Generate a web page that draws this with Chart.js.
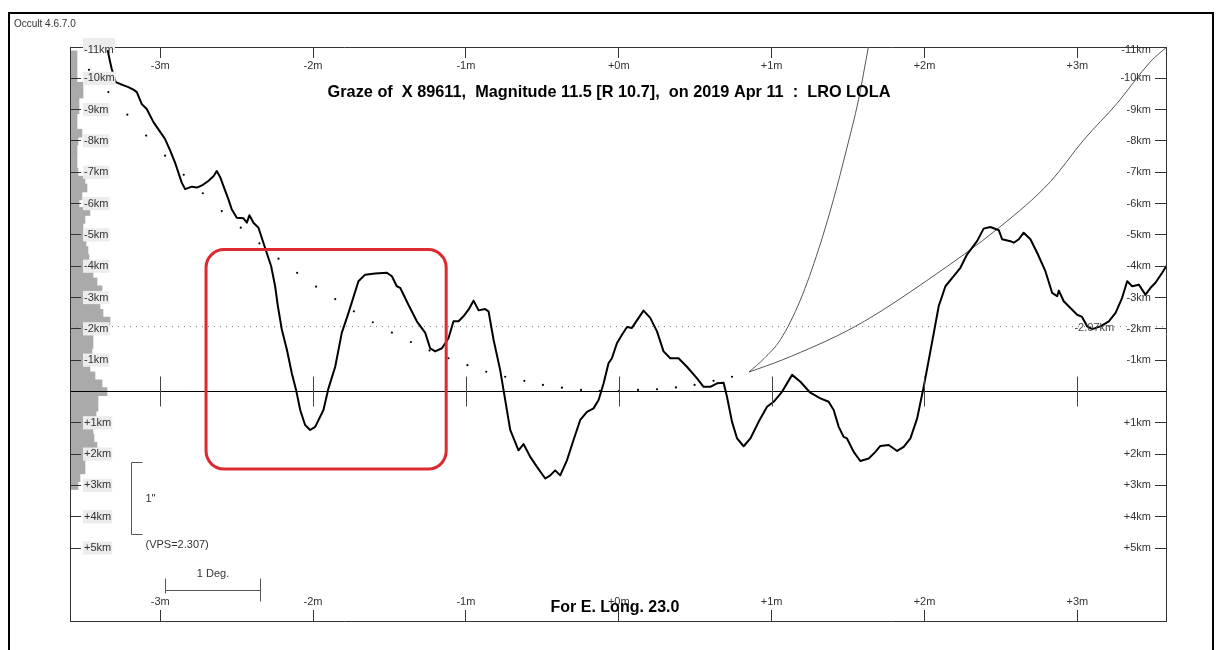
<!DOCTYPE html>
<html>
<head>
<meta charset="utf-8">
<title>Graze profile</title>
<script src="https://cdn.jsdelivr.net/npm/chart.js@4.4.1/dist/chart.umd.min.js"></script>
<style>
	html, body { margin: 0; padding: 0; background: #fff; }
	#wrapper-graze { position: relative; width: 1217px; height: 650px; overflow: hidden; }
	#frame { position: absolute; left: 8px; top: 12px; width: 1206px; height: 660px; border: 2px solid #000; box-sizing: border-box; }
	#graze-profile { position: absolute; left: 0; top: 0; }
</style>
</head>
<body>
<div id="wrapper-graze">
	<div id="frame"></div>
	<canvas id="graze-profile" width="1217" height="650"></canvas>
</div>
<script>
// axis ranges (minutes from central time, km from predicted limit)
const xRange = [-3.59, 3.58];
const yRange = [-11, 7.33];
const minuteTicks = [-3, -2, -1, 0, 1, 2, 3];
const kmTicks = [-11, -10, -9, -8, -7, -6, -5, -4, -3, -2, -1, 1, 2, 3, 4, 5];

// LRO LOLA limb profile
const profileMin = [-3.350, -3.331, -3.317, -3.291, -3.262, -3.230, -3.208, -3.175, -3.153, -3.121,
	-3.088, -3.044, -2.990, -2.968, -2.935, -2.903, -2.859, -2.837, -2.815, -2.793,
	-2.760, -2.720, -2.685, -2.650, -2.630, -2.608, -2.586, -2.554, -2.532, -2.499,
	-2.455, -2.433, -2.416, -2.390, -2.357, -2.325, -2.274, -2.248, -2.230, -2.204,
	-2.171, -2.139, -2.111, -2.084, -2.052, -2.019, -1.986, -1.932, -1.899, -1.855,
	-1.812, -1.768, -1.703, -1.659, -1.594, -1.517, -1.484, -1.452, -1.430, -1.376,
	-1.321, -1.266, -1.234, -1.201, -1.157, -1.114, -1.081, -1.048, -1.016, -0.983,
	-0.950, -0.917, -0.874, -0.852, -0.819, -0.776, -0.743, -0.710, -0.656, -0.623,
	-0.579, -0.535, -0.481, -0.448, -0.416, -0.383, -0.339, -0.296, -0.252, -0.208,
	-0.165, -0.132, -0.099, -0.067, -0.045, -0.012, 0.021, 0.054, 0.086, 0.108,
	0.162, 0.206, 0.250, 0.293, 0.337, 0.391, 0.446, 0.512, 0.555, 0.599,
	0.643, 0.686, 0.708, 0.741, 0.774, 0.817, 0.861, 0.915, 0.970, 1.013,
	1.068, 1.134, 1.188, 1.253, 1.319, 1.373, 1.406, 1.439, 1.471, 1.493,
	1.537, 1.580, 1.635, 1.679, 1.711, 1.766, 1.821, 1.864, 1.908, 1.952,
	1.995, 2.028, 2.061, 2.093, 2.137, 2.191, 2.235, 2.279, 2.344, 2.387,
	2.431, 2.486, 2.508, 2.562, 2.584, 2.617, 2.649, 2.693, 2.737, 2.791,
	2.835, 2.868, 2.879, 2.911, 2.966, 2.999, 3.031, 3.064, 3.097, 3.151,
	3.206, 3.250, 3.293, 3.326, 3.359, 3.402, 3.446, 3.479, 3.511, 3.555,
	3.588];
const profileKm = [-11.05, -10.60, -10.30, -9.88, -9.82, -9.76, -9.72, -9.64, -9.56, -9.18,
	-9.02, -8.60, -8.22, -8.06, -7.70, -7.31, -6.67, -6.46, -6.50, -6.54,
	-6.51, -6.60, -6.72, -6.88, -7.04, -6.85, -6.56, -6.14, -5.82, -5.55,
	-5.53, -5.39, -5.63, -5.39, -5.23, -4.75, -4.00, -3.36, -2.72, -1.97,
	-1.33, -0.58, -0.05, 0.59, 1.07, 1.23, 1.13, 0.59, -0.10, -0.79,
	-1.87, -2.51, -3.52, -3.73, -3.77, -3.79, -3.68, -3.36, -3.31, -2.77,
	-2.24, -1.87, -1.38, -1.28, -1.38, -1.70, -2.24, -2.24, -2.40, -2.61,
	-2.90, -2.59, -2.63, -2.56, -1.65, -0.69, 0.27, 1.23, 1.88, 1.68,
	2.09, 2.41, 2.78, 2.68, 2.52, 2.68, 2.20, 1.55, 0.91, 0.65,
	0.54, 0.27, -0.26, -0.90, -1.06, -1.54, -1.81, -2.06, -2.03, -2.19,
	-2.58, -2.35, -1.92, -1.28, -1.06, -1.06, -0.79, -0.42, -0.15, -0.15,
	-0.26, -0.28, 0.17, 0.97, 1.50, 1.75, 1.50, 0.97, 0.49, 0.33,
	0.01, -0.53, -0.31, 0.04, 0.22, 0.33, 0.59, 1.13, 1.45, 1.50,
	1.93, 2.22, 2.14, 1.93, 1.74, 1.71, 1.90, 1.77, 1.50, 0.86,
	-0.15, -1.01, -1.87, -2.72, -3.36, -3.68, -3.95, -4.38, -4.80, -5.20,
	-5.25, -5.15, -4.86, -4.80, -4.75, -4.86, -5.07, -4.86, -4.43, -3.84,
	-3.15, -3.04, -3.22, -2.88, -2.61, -2.45, -2.38, -2.08, -1.99, -2.08,
	-2.24, -2.51, -2.99, -3.52, -3.36, -3.41, -3.09, -3.31, -3.47, -3.79,
	-4.05];

// dotted reference curve
const predMin = [-3.466, -3.339, -3.215, -3.092, -2.968, -2.846, -2.721, -2.597, -2.473, -2.351,
	-2.226, -2.104, -1.980, -1.855, -1.733, -1.609, -1.484, -1.360, -1.238, -1.114,
	-0.990, -0.867, -0.743, -0.618, -0.496, -0.372, -0.247, -0.124, 0.000, 0.126,
	0.250, 0.374, 0.496, 0.620, 0.741];
const predKm = [-10.27, -9.56, -8.84, -8.17, -7.53, -6.92, -6.33, -5.76, -5.23, -4.73,
	-4.24, -3.79, -3.35, -2.95, -2.56, -2.21, -1.88, -1.58, -1.31, -1.06,
	-0.84, -0.63, -0.47, -0.34, -0.21, -0.12, -0.05, -0.02, -0.01, -0.05,
	-0.07, -0.13, -0.21, -0.34, -0.47];

// the two thin limit curves
const limitAMin = [0.852, 0.950, 1.057, 1.188, 1.306, 1.404, 1.489, 1.568, 1.633];
const limitAKm = [-0.62, -1.05, -1.65, -2.92, -4.52, -6.12, -7.71, -9.31, -11.0];
const limitBMin = [0.852, 1.071, 1.548, 2.024, 2.500, 2.824, 3.041, 3.260, 3.478, 3.580];
const limitBKm = [-0.62, -1.01, -2.08, -3.57, -5.28, -6.70, -8.03, -9.20, -10.53, -10.98];

// limb point histogram down the left edge
const histKm = [-10.875, -10.625, -10.375, -10.125, -9.875, -9.625, -9.375, -9.125, -8.875, -8.625,
	-8.375, -8.125, -7.875, -7.625, -7.375, -7.125, -6.875, -6.625, -6.375, -6.125,
	-5.875, -5.625, -5.375, -5.125, -4.875, -4.625, -4.375, -4.125, -3.875, -3.625,
	-3.375, -3.125, -2.875, -2.625, -2.375, -2.125, -1.875, -1.625, -1.375, -1.125,
	-0.875, -0.625, -0.375, -0.125, 0.125, 0.375, 0.625, 0.875, 1.125, 1.375,
	1.625, 1.875, 2.125, 2.375, 2.625, 2.875];
const histCount = [7, 7, 7, 7, 13, 13, 9, 9, 7, 7,
	12, 8, 7, 7, 7, 8, 15, 17, 12, 9,
	20, 15, 13, 13, 16, 18, 19, 20, 23, 27,
	32, 28, 30, 33, 40, 22, 23, 23, 22, 20,
	20, 25, 32, 37, 28, 28, 26, 23, 23, 24,
	27, 22, 15, 15, 10, 8];

const limitLineKm = -2.07;
const limitLabel = "-2.07km";
const limitLabelMin = 3.111;

// annotations in data units: [minFrom, minTo, kmFrom, kmTo]
const highlightBox = [-2.700, -1.129, -4.53, 2.48];
const degBar = [-2.967, -2.350, 6.33];
const arcsecBar = [-3.190, 2.24, 4.55];

const titleText = "Graze of  X 89611,  Magnitude 11.5 [R 10.7],  on 2019 Apr 11  :  LRO LOLA";
const footText = "For E. Long. 23.0";
const versionText = "Occult 4.6.7.0";

const fontFamily = '"Liberation Sans", Arial, sans-serif';
const tickFont = { family: fontFamily, size: 11 };
const frameColor = "#333";

const toPoints = (xs, ys) => xs.map((v, i) => ({ x: v, y: ys[i] }));
const minLabel = (v) => (v >= 0 ? "+" : "") + v + "m";
// top label sits a little below the frame line, as in Occult
const kmLabel = (v) => {
	let text = (v > 0 ? "+" : "") + v + "km";
	return v === yRange[0] ? ["", text] : text;
};
const kmFont = (c) => (c.tick && c.tick.value === yRange[0] ? { ...tickFont, lineHeight: 0.55 } : tickFont);

function roundedRect(ctx, x, y, w, h, r) {
	ctx.beginPath();
	ctx.moveTo(x + r, y);
	ctx.arcTo(x + w, y, x + w, y + h, r);
	ctx.arcTo(x + w, y + h, x, y + h, r);
	ctx.arcTo(x, y + h, x, y, r);
	ctx.arcTo(x, y, x + w, y, r);
	ctx.closePath();
}

const overlayPlugin = {
	id: "overlay",
	afterDatasetsDraw(chart) {
		let { ctx, chartArea, scales } = chart;
		let y0 = Math.round(scales.y.getPixelForValue(0)) + 0.5;
		ctx.save();
		ctx.lineWidth = 1;
		ctx.strokeStyle = "#000";
		ctx.beginPath();
		ctx.moveTo(chartArea.left, y0);
		ctx.lineTo(chartArea.right, y0);
		ctx.stroke();
		ctx.strokeStyle = "#444";
		ctx.beginPath();
		for (let m of minuteTicks) {
			let px = Math.round(scales.x.getPixelForValue(m)) + 0.5;
			ctx.moveTo(px, y0 - 15);
			ctx.lineTo(px, y0 + 15);
		}
		ctx.stroke();
		ctx.restore();
	},
	afterDraw(chart) {
		let { ctx, scales } = chart;
		let x = scales.x, y = scales.y;
		ctx.save();

		// red highlight
		let left = x.getPixelForValue(highlightBox[0]);
		let right = x.getPixelForValue(highlightBox[1]);
		let top = y.getPixelForValue(highlightBox[2]);
		let bottom = y.getPixelForValue(highlightBox[3]);
		ctx.strokeStyle = "#dc2a30";
		ctx.lineWidth = 3;
		roundedRect(ctx, left, top, right - left, bottom - top, 18);
		ctx.stroke();

		// 1 degree scale bar
		let d0 = Math.round(x.getPixelForValue(degBar[0])) + 0.5;
		let d1 = Math.round(x.getPixelForValue(degBar[1])) + 0.5;
		let dy = Math.round(y.getPixelForValue(degBar[2])) + 0.5;
		ctx.strokeStyle = "#555";
		ctx.lineWidth = 1;
		ctx.beginPath();
		ctx.moveTo(d0, dy); ctx.lineTo(d1, dy);
		ctx.moveTo(d0, dy - 12); ctx.lineTo(d0, dy + 3);
		ctx.moveTo(d1, dy - 12); ctx.lineTo(d1, dy + 11);
		ctx.stroke();

		// 1 arcsec bracket
		let ax = Math.round(x.getPixelForValue(arcsecBar[0])) + 0.5;
		let a0 = Math.round(y.getPixelForValue(arcsecBar[1])) + 0.5;
		let a1 = Math.round(y.getPixelForValue(arcsecBar[2])) + 0.5;
		ctx.beginPath();
		ctx.moveTo(ax + 11, a0); ctx.lineTo(ax, a0); ctx.lineTo(ax, a1); ctx.lineTo(ax + 11, a1);
		ctx.stroke();

		ctx.fillStyle = "#333";
		ctx.font = "11px " + fontFamily;
		ctx.textBaseline = "middle";
		ctx.textAlign = "center";
		ctx.fillText("1 Deg.", (d0 + d1) / 2, dy - 17);
		ctx.textAlign = "left";
		ctx.fillText("1\"", ax + 14, (a0 + a1) / 2);
		ctx.fillText("(VPS=2.307)", ax + 14, a1 + 10);

		ctx.textAlign = "center";
		ctx.fillStyle = "#444";
		ctx.fillText(limitLabel, x.getPixelForValue(limitLabelMin), y.getPixelForValue(limitLineKm) + 1);

		ctx.fillStyle = "#333";
		ctx.font = "10px " + fontFamily;
		ctx.textAlign = "left";
		ctx.fillText(versionText, 14, 24);

		ctx.fillStyle = "#000";
		ctx.font = "bold 16.3px " + fontFamily;
		ctx.textAlign = "center";
		ctx.fillText(titleText, 609, 93);
		ctx.font = "bold 16px " + fontFamily;
		ctx.fillText(footText, 615, 608);
		ctx.restore();
	},
};

function xAxis(position) {
	return {
		type: "linear",
		position: position,
		min: xRange[0],
		max: xRange[1],
		offset: false,
		afterBuildTicks: (s) => { s.ticks = minuteTicks.map((v) => ({ value: v })); },
		afterFit: (s) => { s.height = 0; },
		grid: { drawOnChartArea: false, offset: false, tickLength: -11, color: frameColor },
		border: { display: true, color: frameColor, width: 1 },
		ticks: {
			autoSkip: false,
			maxRotation: 0,
			minRotation: 0,
			mirror: true,
			padding: 12.4,
			font: tickFont,
			color: "#333",
			callback: minLabel,
		},
	};
}

function yAxis(position) {
	let left = position === "left";
	return {
		type: "linear",
		position: position,
		reverse: true,
		min: yRange[0],
		max: yRange[1],
		offset: false,
		afterBuildTicks: (s) => { s.ticks = kmTicks.map((v) => ({ value: v })); },
		afterFit: (s) => { s.width = 0; },
		// ticks and labels go over the histogram bars
		grid: { drawOnChartArea: false, offset: false, tickLength: -11, color: frameColor, z: 1 },
		border: { display: true, color: frameColor, width: 1, z: 1 },
		ticks: {
			autoSkip: false,
			mirror: true,
			padding: left ? 14 : -15,
			z: 1,
			font: kmFont,
			color: "#333",
			showLabelBackdrop: left,
			backdropColor: "#ececec",
			backdropPadding: { top: 0, bottom: 0, left: 1, right: 1 },
			callback: kmLabel,
		},
	};
}

let ctx = document.getElementById("graze-profile").getContext("2d");

let grazeChart = new Chart(ctx, {
	type: "line",
	data: {
		datasets: [
			{
				label: "Profile",
				data: toPoints(profileMin, profileKm),
				borderColor: "#000",
				borderWidth: 2,
				pointRadius: 0,
				tension: 0,
				borderJoinStyle: "round",
				clip: 0,
			},
			{
				label: "Mean limb",
				data: toPoints(predMin, predKm),
				showLine: false,
				pointRadius: 1.1,
				pointBorderWidth: 0,
				pointBackgroundColor: "#000",
				clip: 0,
			},
			{
				label: "Limit A",
				data: toPoints(limitAMin, limitAKm),
				borderColor: "#555",
				borderWidth: 1,
				pointRadius: 0,
				cubicInterpolationMode: "monotone",
				clip: 0,
			},
			{
				label: "Limit B",
				data: toPoints(limitBMin, limitBKm),
				borderColor: "#555",
				borderWidth: 1,
				pointRadius: 0,
				cubicInterpolationMode: "monotone",
				clip: 0,
			},
			{
				label: "Limit line",
				data: [{ x: xRange[0], y: limitLineKm }, { x: xRange[1], y: limitLineKm }],
				borderColor: "#777",
				borderWidth: 1,
				borderDash: [1, 5],
				pointRadius: 0,
			},
			{
				type: "bar",
				label: "Limb points",
				indexAxis: "y",
				xAxisID: "xh",
				yAxisID: "y",
				data: histKm.map((k, i) => ({ y: k, x: histCount[i] })),
				backgroundColor: "#aaaaaa",
				borderWidth: 0,
				barThickness: 8,
				barPercentage: 1,
				categoryPercentage: 1,
			},
		],
	},
	options: {
		responsive: false,
		animation: false,
		events: [],
		layout: { padding: { left: 70, top: 47, right: 51, bottom: 29 } },
		scales: {
			x: xAxis("top"),
			x2: xAxis("bottom"),
			xh: { type: "linear", axis: "x", display: false, min: 0, max: 1096 },
			y: yAxis("left"),
			y2: yAxis("right"),
		},
		plugins: {
			legend: { display: false },
			tooltip: { enabled: false },
		},
	},
	plugins: [overlayPlugin],
});
</script>
</body>
</html>
